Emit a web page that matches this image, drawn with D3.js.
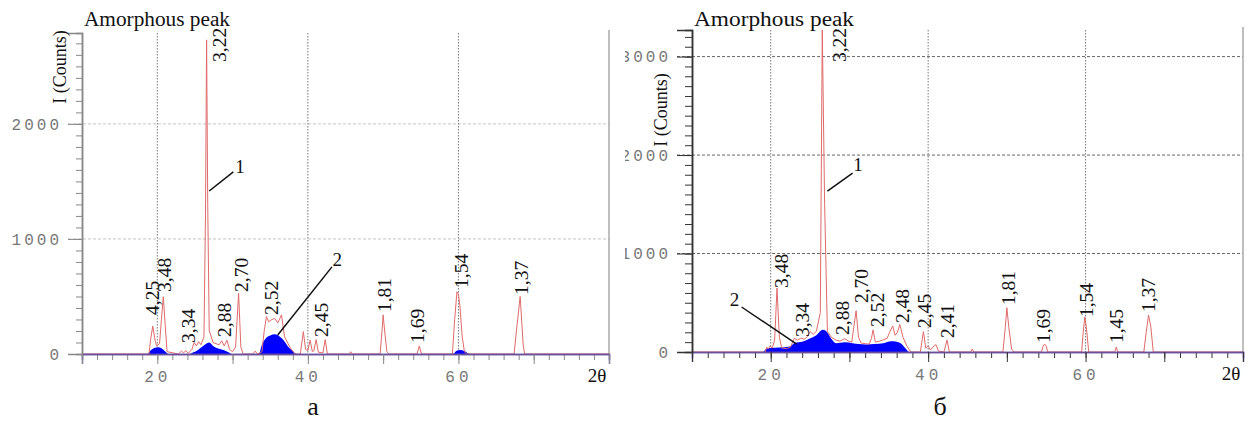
<!DOCTYPE html>
<html>
<head>
<meta charset="utf-8">
<script src="https://cdn.jsdelivr.net/npm/d3@7"></script>
<style>
	body { margin: 0; background: #fff; }
	svg { display: block; }
	.serif { font-family: 'Liberation Serif', 'Times New Roman', serif; fill: #111; }
	.mono { font-family: 'Liberation Mono', 'DejaVu Sans Mono', monospace; fill: #777; }
</style>
</head>
<body>
<svg id="chart" width="1249" height="421"></svg>
<script>
// 2θ range and labelled ticks
const xDomain = [10, 80];
const xLabelTicks = [20, 40, 60];
const yTicksA = [0, 1000, 2000];
const yTicksB = [0, 1000, 2000, 3000];
const yMaxA = 2790;
const yMaxB = 3270;

// curve 1 (red), panel a: [2θ, counts]
const redA = [
	[10, 0], [18.9, 0], [19.1, 120], [19.4, 243], [19.7, 120], [19.9, 70], [20.3, 90], [20.55, 300],
	[20.8, 498], [21.05, 250], [21.3, 20], [22.8, 0], [23.2, 25], [23.5, 10], [23.8, 30], [24.1, 5],
	[24.6, 40], [24.9, 100], [25.2, 70], [25.5, 107], [25.8, 80], [26.2, 150], [26.4, 1200],
	[26.55, 2730], [26.7, 1300], [26.9, 200], [27.1, 165], [27.4, 100], [27.8, 90], [28.2, 80],
	[28.55, 115], [28.9, 70], [29.25, 120], [29.6, 40], [30.0, 20], [30.4, 60], [30.8, 528],
	[31.1, 60], [31.4, 0], [32.7, 0], [33.0, 25], [33.3, 0], [33.9, 20], [34.2, 200], [34.5, 325],
	[34.8, 280], [35.1, 295], [35.6, 310], [36.0, 270], [36.5, 340], [36.9, 150], [37.6, 60],
	[38.3, 0], [39.0, 0], [39.4, 195], [39.7, 40], [40.0, 30], [40.3, 120], [40.6, 20], [40.8, 30],
	[41.1, 125], [41.4, 15], [42.0, 10], [42.3, 125], [42.6, 0], [45.5, 0], [45.7, 20], [45.9, 0],
	[49.6, 0], [49.85, 200], [50.0, 340], [50.2, 200], [50.5, 20], [50.8, 0], [54.5, 0], [54.8, 70],
	[55.1, 0], [59.2, 0], [59.5, 300], [59.8, 540], [60.0, 520], [60.2, 420], [60.5, 150],
	[60.8, 20], [61.1, 0], [67.4, 0], [67.7, 200], [68.2, 500], [68.6, 80], [68.8, 0], [80, 0]
];

// curve 2 (blue, amorphous), panel a
const blueA = [
	[10, 0], [18.7, 0], [19.1, 30], [19.6, 52], [20.1, 58], [20.6, 48], [21.1, 20], [21.5, 0],
	[24.3, 0], [24.8, 15], [25.2, 25], [25.7, 50], [26.3, 80], [26.9, 100], [27.5, 65], [28.0, 50],
	[28.8, 35], [29.4, 18], [29.9, 0], [33.5, 0], [33.9, 80], [34.4, 135], [35.0, 160], [35.6, 171],
	[36.2, 155], [36.7, 125], [37.3, 70], [37.9, 30], [38.5, 0], [59.3, 0], [59.7, 25], [60.2, 35],
	[60.8, 25], [61.5, 0], [80, 0]
];

// curve 1 (red), panel б
const redB = [
	[10, 0], [19.3, 0], [19.5, 50], [19.7, 30], [19.9, 60], [20.2, 40], [20.5, 120], [20.8, 650],
	[21.1, 150], [21.4, 40], [22.0, 35], [22.5, 50], [23.0, 140], [23.4, 120], [23.8, 140],
	[24.3, 130], [24.7, 160], [25.0, 207], [25.4, 180], [25.8, 210], [26.3, 400], [26.55, 3270],
	[26.85, 1500], [27.2, 210], [27.7, 150], [28.3, 120], [28.8, 110], [29.4, 135], [29.9, 110],
	[30.3, 100], [30.55, 250], [30.85, 420], [31.15, 150], [31.5, 90], [32.0, 85], [32.5, 80],
	[32.8, 140], [33.0, 225], [33.3, 100], [33.8, 110], [34.2, 120], [34.8, 140], [35.1, 200],
	[35.5, 265], [35.8, 170], [36.1, 200], [36.4, 280], [36.8, 150], [37.3, 60], [37.8, 0],
	[39.0, 0], [39.2, 100], [39.4, 207], [39.7, 40], [40.0, 60], [40.3, 20], [40.6, 50], [41.0, 75],
	[41.3, 10], [42.0, 0], [42.2, 60], [42.4, 122], [42.7, 0], [45.4, 0], [45.6, 30], [45.8, 0],
	[49.5, 0], [49.8, 250], [50.0, 450], [50.25, 250], [50.6, 30], [50.9, 0], [54.4, 0], [54.6, 60],
	[54.8, 80], [55.0, 60], [55.2, 0], [59.5, 0], [59.7, 200], [59.9, 355], [60.1, 250], [60.4, 0],
	[63.7, 0], [63.9, 50], [64.1, 0], [67.4, 0], [67.7, 200], [68.0, 375], [68.3, 250], [68.6, 0],
	[80, 0]
];

// curve 2 (blue, amorphous), panel б
const blueB = [
	[10, 0], [19.0, 0], [19.4, 30], [19.9, 40], [21.1, 45], [22.4, 55], [23.1, 95], [24.0, 105],
	[24.9, 135], [25.8, 170], [26.6, 225], [27.0, 215], [27.7, 135], [28.3, 90], [29.4, 100],
	[30.4, 90], [31.2, 80], [32.1, 75], [33.2, 80], [34.3, 90], [35.3, 110], [36.0, 105],
	[36.6, 85], [37.2, 30], [37.6, 0], [80, 0]
];

// d-spacing labels: [text, 2θ, counts level of label foot]
const peaksA = [
	['3,22', 28.33, 2539], ['4,25', 19.30, 339], ['3,48', 21.02, 539], ['3,34', 24.08, 96],
	['2,88', 28.99, 148], ['2,70', 31.25, 539], ['2,52', 35.23, 339], ['2,45', 41.87, 148],
	['1,81', 50.24, 365], ['1,69', 54.62, 96], ['1,54', 60.47, 574], ['1,37', 68.43, 513]
];
const peaksB = [
	['3,22', 28.73, 2944], ['3,48', 21.39, 650], ['3,34', 24.05, 152], ['2,88', 29.11, 173],
	['2,70', 31.52, 497], ['2,52', 33.54, 254], ['2,48', 36.71, 294], ['2,45', 39.49, 244],
	['2,41', 42.41, 142], ['1,81', 50.25, 477], ['1,69', 54.68, 91], ['1,54', 60.13, 355],
	['1,45', 63.92, 91], ['1,37', 67.97, 406]
];

// curve number callouts: [text, from, to, label point]
const calloutsA = [
	['1', [26.9, 1417], [30.1, 1583], [31.0, 1626]],
	['2', [36.0, 165], [43.2, 757], [43.9, 817]]
];
const calloutsB = [
	['1', [27.2, 1634], [30.4, 1817], [31.1, 1898]],
	['2', [23.3, 81], [16.3, 457], [15.4, 528]]
];

const svg = d3.select('#chart');
svg.append('rect').attr('width', 1249).attr('height', 421).attr('fill', '#fff');

svg.append('defs')
	.append('clipPath')
	.attr('id', 'clipB')
	.append('rect')
	.attr('x', 625)
	.attr('y', 0)
	.attr('width', 640)
	.attr('height', 421);

function drawPanel(p) {
	const g = svg.append('g').attr('clip-path', p.clip ? 'url(#clipB)' : null);
	const x = d3.scaleLinear(xDomain, [p.left, p.right]);
	const y = d3.scaleLinear([0, p.yMax], [p.bottom, p.top]);

	/** GRID ******************************************************************/
	g.selectAll('.grid-y')
		.data(p.yTicks.filter((d) => d > 0))
		.enter()
		.append('line')
		.attr('x1', p.left - p.majorY)
		.attr('x2', p.right)
		.attr('y1', (d) => y(d))
		.attr('y2', (d) => y(d))
		.attr('stroke', p.gridColor)
		.attr('stroke-dasharray', '3,2');

	g.selectAll('.grid-x')
		.data(xLabelTicks)
		.enter()
		.append('line')
		.attr('x1', (d) => x(d))
		.attr('x2', (d) => x(d))
		.attr('y1', p.top)
		.attr('y2', p.bottom)
		.attr('stroke', '#777')
		.attr('stroke-dasharray', '1.5,1.5');

	// right frame
	g.append('line')
		.attr('x1', p.right)
		.attr('x2', p.right)
		.attr('y1', p.top - 3)
		.attr('y2', p.bottom)
		.attr('stroke', '#aaa')
		.attr('stroke-width', 1.5);

	/** DATA ******************************************************************/
	g.append('path')
		.attr('fill', '#0000ff')
		.attr('d', d3.area()
			.curve(d3.curveMonotoneX)
			.x((d) => x(d[0]))
			.y0(y(0))
			.y1((d) => y(d[1]))(p.blue));

	g.append('path')
		.attr('fill', 'none')
		.attr('stroke', '#e06a6a')
		.attr('stroke-width', 1)
		.attr('stroke-linejoin', 'round')
		.attr('d', d3.line()
			.x((d) => x(d[0]))
			.y((d) => y(d[1]))(p.red));

	/** AXES ******************************************************************/
	const minorX = d3.axisBottom(x).tickValues(d3.range(10, 81, 2)).tickSize(6).tickFormat('');
	const majorX = d3.axisBottom(x)
		.tickValues(d3.range(10, 81, 10))
		.tickSize(10)
		.tickPadding(7)
		.tickFormat((d) => (xLabelTicks.includes(d) ? d : ''));
	[minorX, majorX].forEach((ax) => {
		const a = g.append('g')
			.attr('transform', `translate(0, ${p.bottom})`)
			.call(ax);
		a.select('.domain').attr('stroke', '#6a4f9a').attr('stroke-width', 1.5);
		a.selectAll('.tick line').attr('stroke', p.axisColor);
		a.selectAll('.tick text')
			.attr('class', 'mono')
			.attr('font-size', 16)
			.attr('letter-spacing', 4)
			.attr('fill', '#777');
	});

	const minorY = d3.axisLeft(y).tickValues(d3.range(0, p.yMax, 100)).tickSize(p.minorY).tickFormat('');
	const majorY = d3.axisLeft(y)
		.tickValues(p.yTicks)
		.tickSize(p.majorY)
		.tickPadding(6)
		.tickFormat(d3.format('d'));
	[minorY, majorY].forEach((ax) => {
		const a = g.append('g')
			.attr('transform', `translate(${p.left}, 0)`)
			.call(ax);
		a.select('.domain').attr('stroke', p.axisColor).attr('stroke-width', 1.5);
		a.selectAll('.tick line').attr('stroke', p.axisColor);
		a.selectAll('.tick text')
			.attr('class', 'mono')
			.attr('font-size', 16)
			.attr('letter-spacing', 3)
			.attr('fill', '#777');
	});

	/** TEXT ******************************************************************/
	g.append('text')
		.attr('class', 'serif')
		.attr('x', p.left + 2)
		.attr('y', 26)
		.attr('font-size', 20)
		.attr('textLength', p.titleWidth)
		.attr('lengthAdjust', 'spacingAndGlyphs')
		.text('Amorphous peak');

	g.append('text')
		.attr('class', 'serif')
		.attr('transform', `translate(${p.yTitleX}, ${p.yTitleY}) rotate(-90)`)
		.attr('text-anchor', 'middle')
		.attr('font-size', 18)
		.text('I (Counts)');

	g.append('text')
		.attr('class', 'serif')
		.attr('x', p.right - 12)
		.attr('y', p.bottom + 28)
		.attr('font-size', 19)
		.attr('text-anchor', 'middle')
		.text('2θ');

	g.selectAll('.peak-label')
		.data(p.peaks)
		.enter()
		.append('text')
		.attr('class', 'serif')
		.attr('font-size', 19.5)
		.attr('transform', (d) => `translate(${x(d[1]) + 6.5}, ${y(d[2])}) rotate(-90)`)
		.text((d) => d[0]);

	p.callouts.forEach((c) => {
		g.append('line')
			.attr('x1', x(c[1][0]))
			.attr('y1', y(c[1][1]))
			.attr('x2', x(c[2][0]))
			.attr('y2', y(c[2][1]))
			.attr('stroke', '#111')
			.attr('stroke-width', 1.5);
		g.append('text')
			.attr('class', 'serif')
			.attr('font-size', 19)
			.attr('text-anchor', 'middle')
			.attr('x', x(c[3][0]))
			.attr('y', y(c[3][1]) + 6)
			.text(c[0]);
	});

	svg.append('text')
		.attr('class', 'serif')
		.attr('x', p.captionX)
		.attr('y', 415)
		.attr('font-size', 26)
		.attr('text-anchor', 'middle')
		.text(p.caption);
}

drawPanel({
	left: 82, right: 609, top: 33, bottom: 354,
	yMax: yMaxA, yTicks: yTicksA, red: redA, blue: blueA,
	peaks: peaksA, callouts: calloutsA,
	majorY: 14, minorY: 6, axisColor: '#888', gridColor: '#c4c4c4',
	titleWidth: 146, yTitleX: 66, yTitleY: 67,
	caption: 'а', captionX: 313, clip: false
});

drawPanel({
	left: 692, right: 1243, top: 30, bottom: 352,
	yMax: yMaxB, yTicks: yTicksB, red: redB, blue: blueB,
	peaks: peaksB, callouts: calloutsB,
	majorY: 15, minorY: 7, axisColor: '#333', gridColor: '#666',
	titleWidth: 160, yTitleX: 667, yTitleY: 110,
	caption: 'б', captionX: 940, clip: true
});
</script>
</body>
</html>
